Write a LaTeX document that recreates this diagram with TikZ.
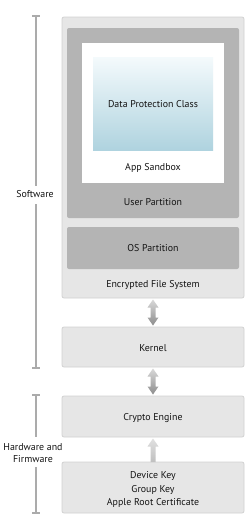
\documentclass[tikz,border=0pt]{standalone}
\usepackage{fontspec}
\setmainfont{PT Sans}
\usetikzlibrary{calc}
\definecolor{boxfill}{HTML}{E6E6E6}
\definecolor{boxline}{HTML}{D2D2D2}
\definecolor{partfill}{HTML}{B4B4B4}
\definecolor{bracketgray}{HTML}{ABABAB}
\definecolor{dpctop}{HTML}{F4FAFC}
\definecolor{dpcbot}{HTML}{AFD3DF}
\definecolor{txt}{HTML}{141414}
\newcommand\fatdouble[2]{%
  \shade[top color=black!15, bottom color=black!45]
    let \p1=(#1), \p2=(#2) in
    (\x1,\y1) -- ({\x1+5.5pt},{\y1-8pt}) -- ({\x1+2.5pt},{\y1-8pt}) --
    ({\x1+2.5pt},{\y2+8pt}) -- ({\x1+5.5pt},{\y2+8pt}) -- (\x1,\y2) --
    ({\x1-5.5pt},{\y2+8pt}) -- ({\x1-2.5pt},{\y2+8pt}) --
    ({\x1-2.5pt},{\y1-8pt}) -- ({\x1-5.5pt},{\y1-8pt}) -- cycle;}
\newcommand\fatup[2]{%
  \shade[top color=black!12, bottom color=black!25]
    let \p1=(#1), \p2=(#2) in
    (\x1,\y1) -- ({\x1+5.5pt},{\y1-8pt}) -- ({\x1+2.5pt},{\y1-8pt}) --
    ({\x1+2.5pt},\y2) -- ({\x1-2.5pt},\y2) --
    ({\x1-2.5pt},{\y1-8pt}) -- ({\x1-5.5pt},{\y1-8pt}) -- cycle;}
\begin{document}
\begin{tikzpicture}[x=1pt,y=-1pt,
  panel/.style={draw=boxline, fill=boxfill, rounded corners=2pt, line width=0.8pt,
    inner sep=0pt, outer sep=0pt, anchor=north west},
  part/.style={fill=partfill, rounded corners=2pt, inner sep=0pt, outer sep=0pt, anchor=north west},
  lbl/.style={font=\fontsize{9.9}{13.5}\selectfont, text=txt, inner sep=0pt, align=center},
  brk/.style={draw=bracketgray, line width=2pt}]
\useasboundingbox[fill=white] (0,0) rectangle (250,523);
% boxes
\node[panel, minimum width=182pt, minimum height=281pt] (efs) at (62,17) {};
\node[part, minimum width=172pt, minimum height=190pt] (user) at (67,28) {};
\node[fill=white, inner sep=0pt, outer sep=0pt, anchor=north west,
  minimum width=142pt, minimum height=140pt] (sandbox) at (82,43) {};
\node[top color=dpctop, bottom color=dpcbot, inner sep=0pt, outer sep=0pt, anchor=north west,
  minimum width=120pt, minimum height=93pt] (dpc) at (93,57) {};
\node[part, minimum width=172pt, minimum height=42pt] (os) at (67,227) {};
\node[panel, minimum width=182pt, minimum height=40pt] (kernel) at (62,327) {};
\node[panel, minimum width=182pt, minimum height=41pt] (crypto) at (62,396) {};
\node[panel, minimum width=182pt, minimum height=51pt] (keys) at (62,462) {};
% labels
\node[lbl] (tdpc) at (153,104) {Data Protection Class};
\node[lbl] (tsand) at (153,168) {App Sandbox};
\node[lbl] (tuser) at (153,202) {User Partition};
\node[lbl] (tos) at (153,248) {OS Partition};
\node[lbl] (tefs) at (153,285) {Encrypted File System};
\node[lbl] (tkern) at (153,348) {Kernel};
\node[lbl] (tcrypto) at (153,418) {Crypto Engine};
\node[lbl] (tkeys) at (153,489.5) {Device Key\\Group Key\\Apple Root Certificate};
\node[lbl] (tsw) at (35,194.5) {Software};
\node[lbl, font=\fontsize{9.9}{12}\selectfont] (thw) at (33,453) {Hardware and\\Firmware};
% arrows
\fatdouble{$(efs.south)+(0,1.5)$}{$(kernel.north)+(0,-1.5)$}
\fatdouble{$(kernel.south)+(0,1.5)$}{$(crypto.north)+(0,-1.5)$}
\fatup{$(crypto.south)+(0,1.5)$}{keys.north}
% brackets
\coordinate (swtop) at (36,16);
\coordinate (swbot) at (36,368);
\coordinate (hwtop) at (36,395);
\coordinate (hwbot) at (36,513);
\draw[brk] (swtop) -- (36,186);
\draw[brk] (36,204) -- (swbot);
\draw[brk] ($(swtop)+(-4,0)$) -- ($(swtop)+(4,0)$);
\draw[brk] ($(swbot)+(-4,0)$) -- ($(swbot)+(4,0)$);
\draw[brk] (hwtop) -- (36,437);
\draw[brk] (36,467) -- (hwbot);
\draw[brk] ($(hwtop)+(-4,0)$) -- ($(hwtop)+(4,0)$);
\draw[brk] ($(hwbot)+(-4,0)$) -- ($(hwbot)+(4,0)$);
\end{tikzpicture}
\end{document}
